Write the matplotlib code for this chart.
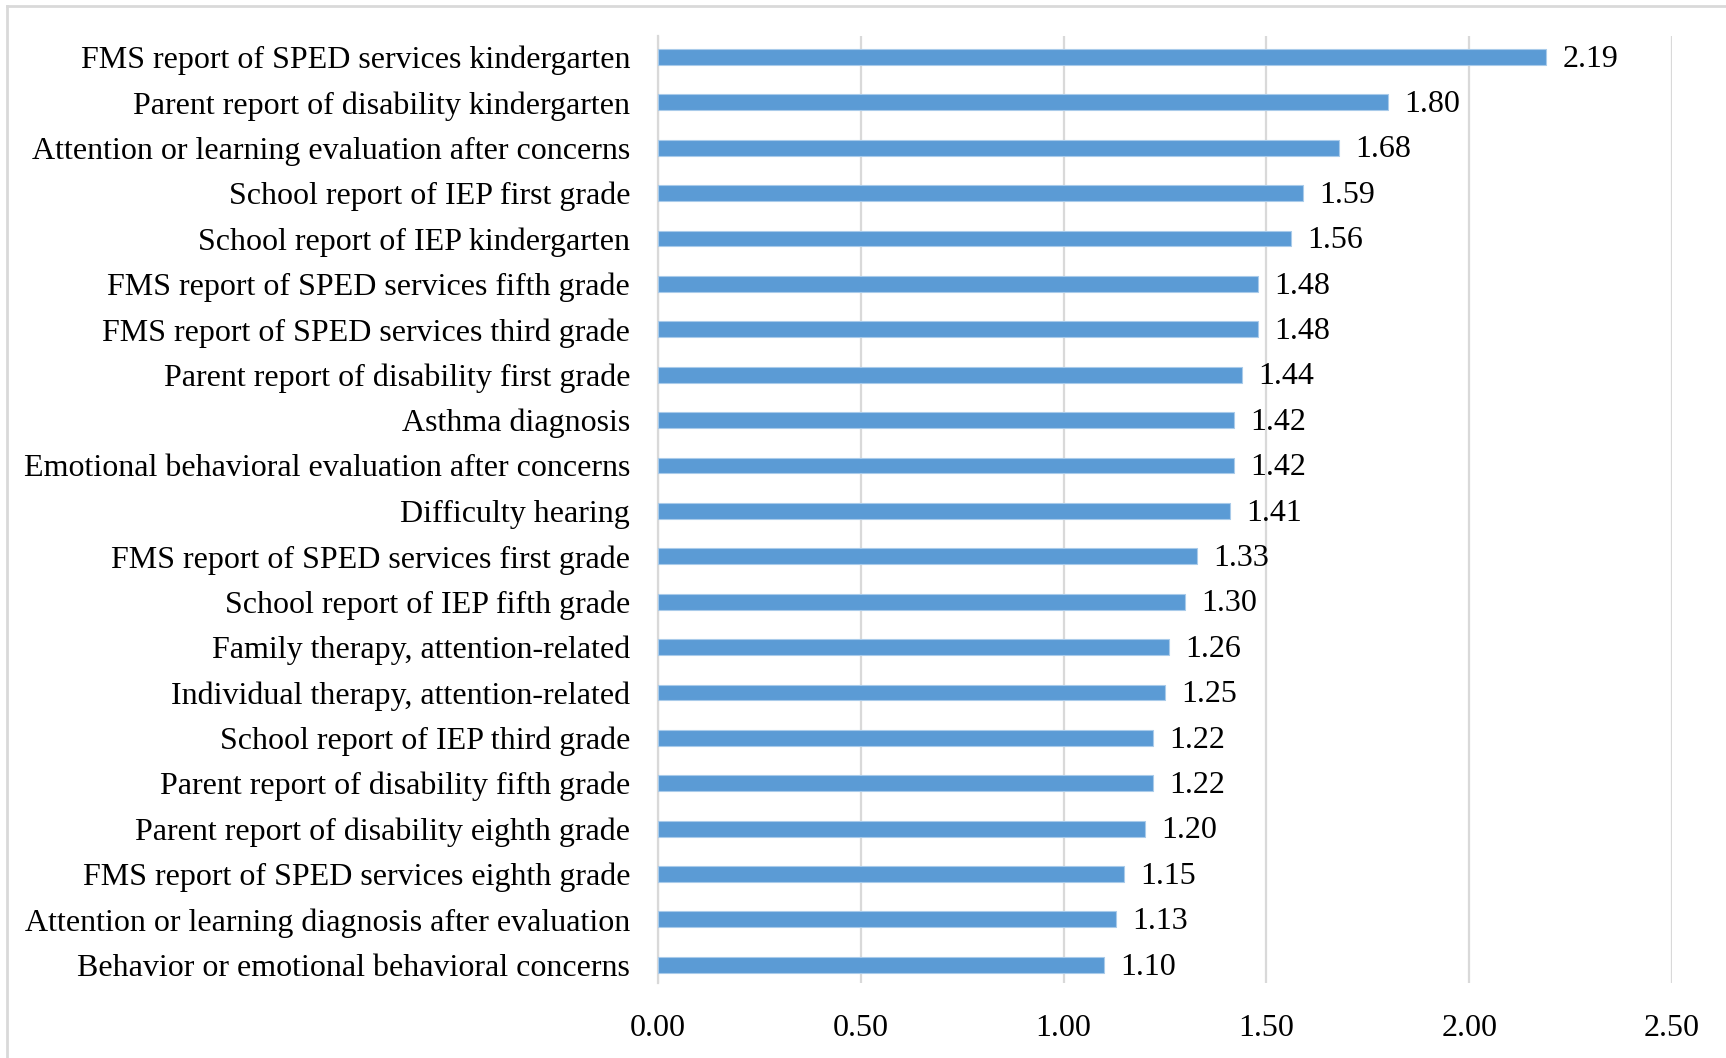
import numpy as np
import matplotlib
matplotlib.use('Agg')
import matplotlib.pyplot as plt
from matplotlib.lines import Line2D

labels = [
    "FMS report of SPED services kindergarten",
    "Parent report of disability kindergarten",
    "Attention or learning evaluation after concerns",
    "School report of IEP first grade",
    "School report of IEP kindergarten",
    "FMS report of SPED services fifth grade",
    "FMS report of SPED services third grade",
    "Parent report of disability first grade",
    "Asthma diagnosis",
    "Emotional behavioral evaluation after concerns",
    "Difficulty hearing",
    "FMS report of SPED services first grade",
    "School report of IEP fifth grade",
    "Family therapy, attention-related",
    "Individual therapy, attention-related",
    "School report of IEP third grade",
    "Parent report of disability fifth grade",
    "Parent report of disability eighth grade",
    "FMS report of SPED services eighth grade",
    "Attention or learning diagnosis after evaluation",
    "Behavior or emotional behavioral concerns",
]
values = [2.19, 1.80, 1.68, 1.59, 1.56, 1.48, 1.48, 1.44, 1.42, 1.42, 1.41,
          1.33, 1.30, 1.26, 1.25, 1.22, 1.22, 1.20, 1.15, 1.13, 1.10]
xticks = [0.0, 0.5, 1.0, 1.5, 2.0, 2.5]

plt.rcParams['font.family'] = ['Liberation Serif', 'DejaVu Serif']
fs = 23

fig = plt.figure(figsize=(17.26, 10.58), dpi=100)
ax = fig.add_axes([658 / 1726, 1 - 983 / 1058, (1672 - 658) / 1726, (983 - 36) / 1058])

y = np.arange(len(labels))
ax.barh(y, values, height=0.35, color='#5B9BD5', edgecolor='#A9CBEA', linewidth=0.8, zorder=3)

# value labels at the bar ends
for yi, v in zip(y, values):
    ax.text(v + 0.04, yi + 0.05, f"{v:.2f}", ha='left', va='center', fontsize=fs, color='black')

ax.set_xlim(0, 2.5)
ax.set_ylim(len(labels) - 0.6, -0.46)
ax.set_xticks(xticks)
ax.set_xticklabels([f"{t:.2f}" for t in xticks], fontsize=fs)
ax.set_yticks(y)
ax.set_yticklabels(labels, fontsize=fs)
ax.tick_params(axis='both', length=0, colors='black')
ax.tick_params(axis='x', pad=22)
ax.tick_params(axis='y', pad=20)

ax.grid(axis='x', color='#D9D9D9', linewidth=1.6, zorder=0)
for s in ['top', 'right', 'bottom']:
    ax.spines[s].set_visible(False)
ax.spines['left'].set_color('#D9D9D9')
ax.spines['left'].set_linewidth(1.6)

# thin frame lines at the left and top of the picture
fig.add_artist(Line2D([7 / 1726, 7 / 1726], [0, 1 - 6 / 1058], color='#D9D9D9', linewidth=2))
fig.add_artist(Line2D([7 / 1726, 1], [1 - 6 / 1058, 1 - 6 / 1058], color='#D9D9D9', linewidth=2))

fig.savefig('out.png', dpi=100)
